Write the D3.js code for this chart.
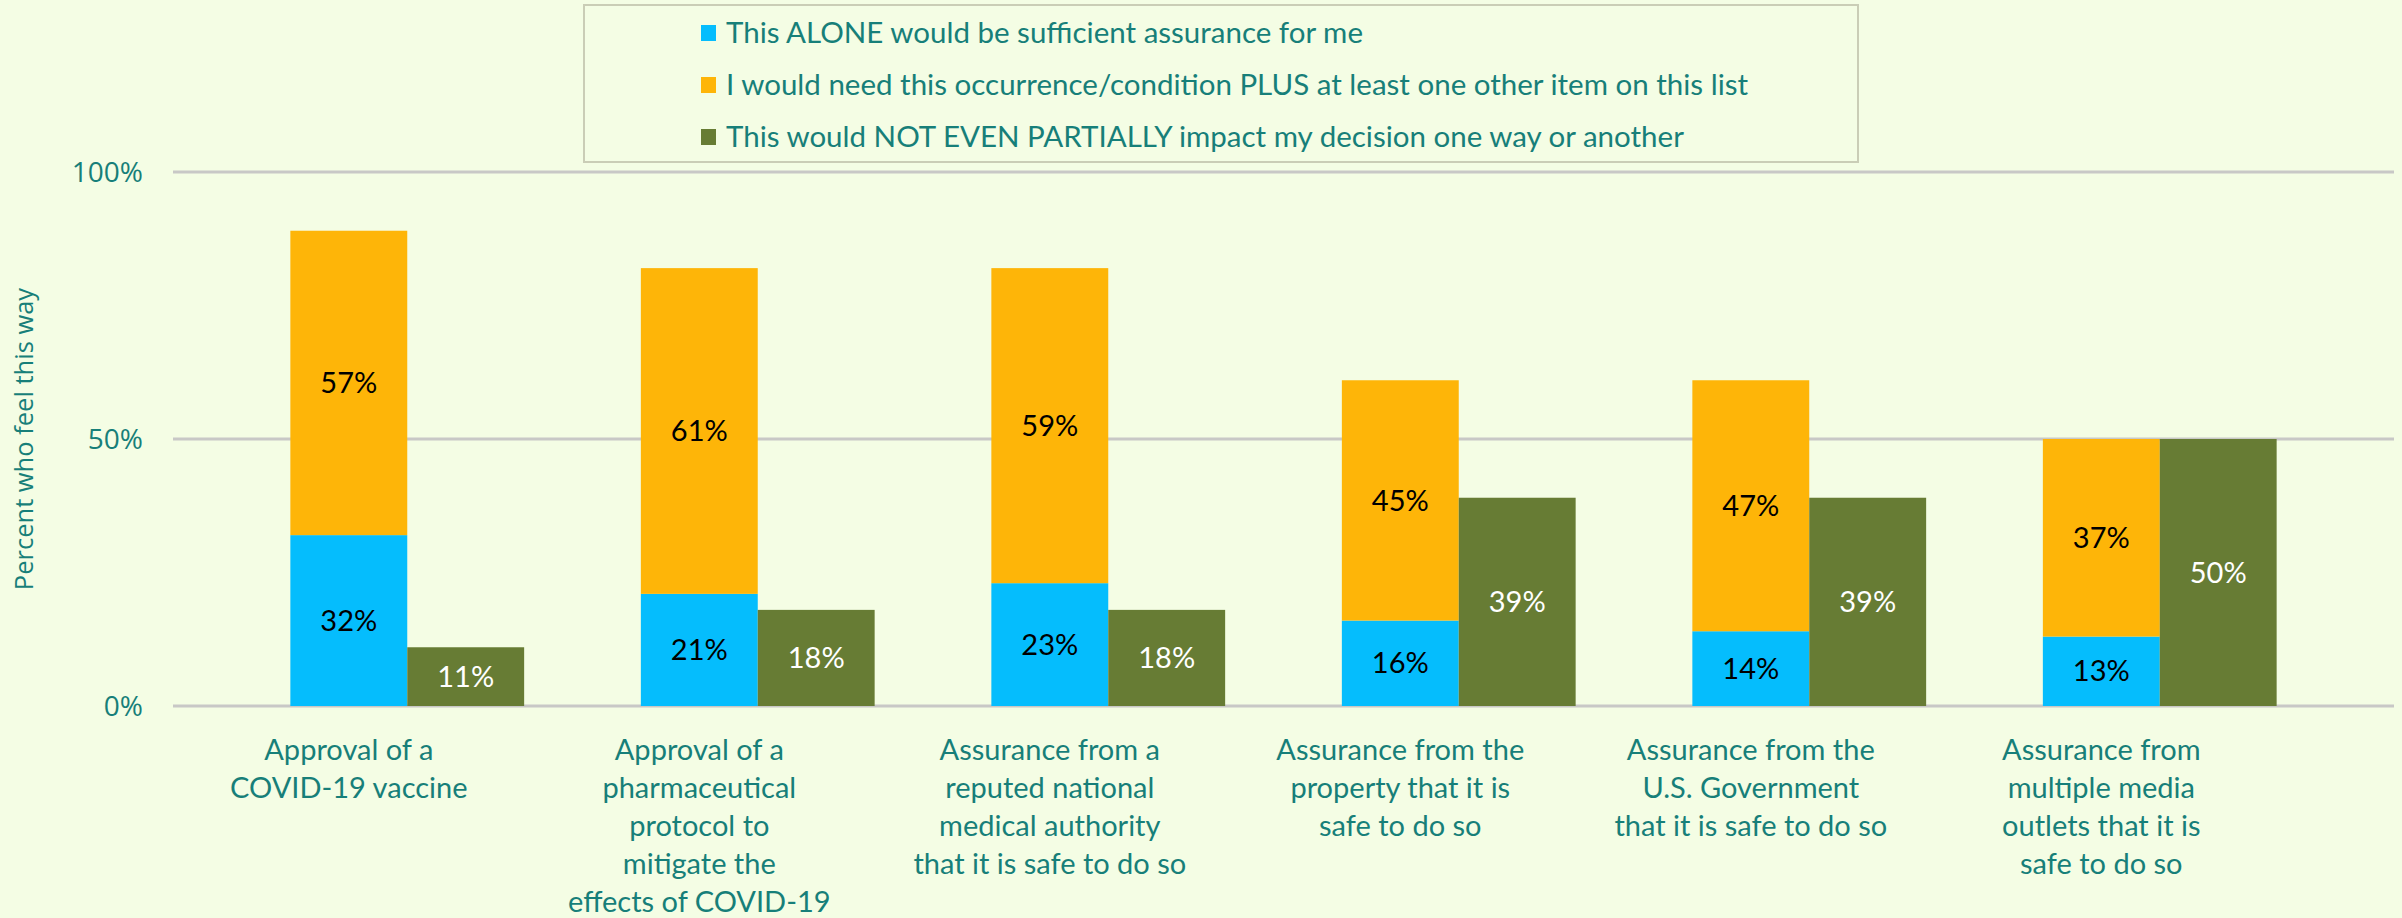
<!DOCTYPE html>
<html>
<head>
<meta charset="utf-8">
<script src="https://cdn.jsdelivr.net/npm/d3@7"></script>
<style>
  html, body { margin: 0; padding: 0; background: #f4fde4; }
  svg text { font-family: "Lato", sans-serif; }
</style>
</head>
<body>
<div class="chart"></div>
<script>
var categories = [
  ["Approval of a", "COVID-19 vaccine"],
  ["Approval of a", "pharmaceutical", "protocol to", "mitigate the", "effects of COVID-19"],
  ["Assurance from a", "reputed national", "medical authority", "that it is safe to do so"],
  ["Assurance from the", "property that it is", "safe to do so"],
  ["Assurance from the", "U.S. Government", "that it is safe to do so"],
  ["Assurance from", "multiple media", "outlets that it is", "safe to do so"]
];
var aloneValues = [0.32, 0.21, 0.23, 0.16, 0.14, 0.13];
var plusValues = [0.57, 0.61, 0.59, 0.45, 0.47, 0.37];
var notValues = [0.11, 0.18, 0.18, 0.39, 0.39, 0.50];
var seriesNames = [
  "This ALONE would be sufficient assurance for me",
  "I would need this occurrence/condition PLUS at least one other item on this list",
  "This would NOT EVEN PARTIALLY impact my decision one way or another"
];
var yTicks = [0, 0.5, 1];

var blue = '#05bdfd', orange = '#feb508', green = '#677c34', teal = '#177f79';
var width = 2402, height = 918;

var rows = categories.map(function(c, i) {
  return {id: i, alone: aloneValues[i], plus: plusValues[i], not: notValues[i]};
});

var svg = d3.select('.chart').append("svg").attr("width", width).attr("height", height);
svg.append("rect").attr("width", width).attr("height", height).attr("fill", "#f4fde4");

var y = d3.scaleLinear().domain([0, 1]).range([706, 172]);
var x = d3.scaleBand().domain(d3.range(categories.length)).range([232, 2335]).paddingInner(0.333).paddingOuter(0.1665);
var sub = d3.scaleBand().domain(["stack", "not"]).range([0, x.bandwidth()]);

// gridlines + y labels
svg.selectAll(".grid").data(yTicks).enter().append("line")
  .attr("x1", 173).attr("x2", 2394)
  .attr("y1", function(d) { return y(d); }).attr("y2", function(d) { return y(d); })
  .attr("stroke", "#c8c8c6").attr("stroke-width", 3);
svg.selectAll(".ytick").data(yTicks).enter().append("text")
  .attr("x", 143).attr("y", function(d) { return y(d); }).attr("dy", "0.35em")
  .attr("text-anchor", "end").attr("fill", teal).style("font-size", "28px")
  .style("font-family", "Open Sans, sans-serif")
  .text(d3.format(".0%"));

svg.append("text").attr("transform", "translate(33," + y(0.5) + ") rotate(-90)")
  .attr("text-anchor", "middle").attr("fill", teal).style("font-size", "25.5px")
  .style("font-family", "Open Sans, sans-serif")
  .text("Percent who feel this way");

// stacked bars
var stack = d3.stack().keys(["alone", "plus"]);
var layers = stack(rows);
var colors = {alone: blue, plus: orange};
var g = svg.append("g");
layers.forEach(function(layer) {
  g.selectAll(".seg-" + layer.key).data(layer).enter().append("rect")
    .attr("x", function(d) { return x(d.data.id) + sub("stack"); })
    .attr("y", function(d) { return y(d[1]); })
    .attr("width", sub.bandwidth())
    .attr("height", function(d) { return y(d[0]) - y(d[1]); })
    .attr("fill", colors[layer.key]);
  g.selectAll(".lab-" + layer.key).data(layer).enter().append("text")
    .attr("x", function(d) { return x(d.data.id) + sub("stack") + sub.bandwidth() / 2; })
    .attr("y", function(d) { return (y(d[0]) + y(d[1])) / 2; })
    .attr("dy", "0.35em").attr("text-anchor", "middle").attr("fill", "#000")
    .style("font-size", "29px")
    .text(function(d) { return d3.format(".0%")(d.data[layer.key]); });
});

// second bar
g.selectAll(".notbar").data(rows).enter().append("rect")
  .attr("x", function(d) { return x(d.id) + sub("not"); })
  .attr("y", function(d) { return y(d.not); })
  .attr("width", sub.bandwidth())
  .attr("height", function(d) { return y(0) - y(d.not); })
  .attr("fill", green);
g.selectAll(".notlab").data(rows).enter().append("text")
  .attr("x", function(d) { return x(d.id) + sub("not") + sub.bandwidth() / 2; })
  .attr("y", function(d) { return (y(0) + y(d.not)) / 2; })
  .attr("dy", "0.35em").attr("text-anchor", "middle").attr("fill", "#fff")
  .style("font-size", "29px")
  .text(function(d) { return d3.format(".0%")(d.not); });

// category labels
var cat = svg.selectAll(".cat").data(categories).enter().append("text")
  .attr("text-anchor", "middle").attr("fill", teal).style("font-size", "29px");
cat.selectAll("tspan").data(function(d, i) { return d.map(function(t) { return {t: t, i: i}; }); })
  .enter().append("tspan")
  .attr("x", function(d) { return x(d.i) + sub("stack") + sub.bandwidth() / 2; })
  .attr("y", function(d, j) { return 750 + j * 38; })
  .attr("dy", "0.35em")
  .text(function(d) { return d.t; });

// legend
var legend = svg.append("g");
legend.append("rect").attr("x", 584).attr("y", 5).attr("width", 1274).attr("height", 157)
  .attr("fill", "#f4fde4").attr("stroke", "#cacdb6").attr("stroke-width", 2);
var legColors = [blue, orange, green];
var li = legend.selectAll(".li").data(seriesNames).enter().append("g")
  .attr("transform", function(d, i) { return "translate(701," + (33 + i * 52) + ")"; });
li.append("rect").attr("x", 0).attr("y", -8).attr("width", 15).attr("height", 16)
  .attr("fill", function(d, i) { return legColors[i]; });
li.append("text").attr("x", 25).attr("dy", "0.35em").attr("fill", teal)
  .style("font-size", "29.5px").text(function(d) { return d; });
</script>
</body>
</html>
